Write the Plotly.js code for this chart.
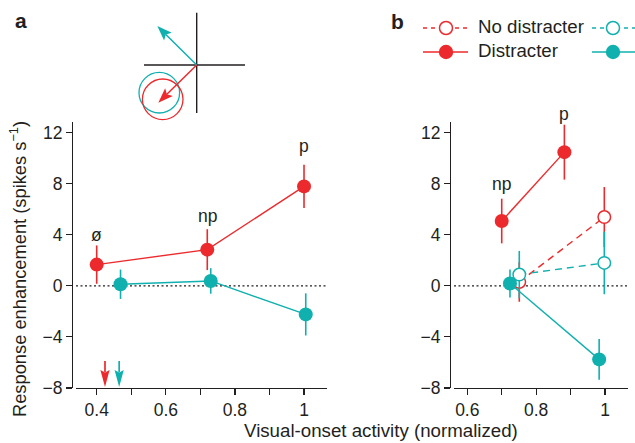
<!DOCTYPE html>
<html>
<head>
<meta charset="utf-8">
<script src="https://cdn.plot.ly/plotly-3.0.1.min.js"></script>
<style>html,body{margin:0;padding:0;background:#fff;}#chart{width:635px;height:443px;}</style>
</head>
<body>
<div id="chart"></div>
<script>
// ---------- data ----------
// Panel a
const aRedX = [0.40, 0.72, 1.00];
const aRedY = [1.66, 2.83, 7.78];
const aRedErr = [1.5, 1.6, 1.7];
const aCyanX = [0.469, 0.73, 1.005];
const aCyanY = [0.12, 0.38, -2.24];
const aCyanErr = [1.15, 1.0, 1.65];
const aLabels = ['ø', 'np', 'p'];
const onsetArrowX = [0.424, 0.465]; // red, cyan

// Panel b
const bRedDistX = [0.70, 0.882];
const bRedDistY = [5.07, 10.46];
const bRedDistErr = [1.75, 2.15];
const bCyanDistX = [0.724, 0.983];
const bCyanDistY = [0.18, -5.76];
const bCyanDistErr = [1.1, 1.6];
const bRedNoX = [0.751, 0.998];
const bRedNoY = [0.3, 5.38];
const bRedNoErr = [1.55, 2.35];
const bCyanNoX = [0.751, 0.998];
const bCyanNoY = [0.88, 1.79];
const bCyanNoErr = [1.85, 2.45];
const bLabels = ['np', 'p'];

// Ticks
const yTicks = [-8, -4, 0, 4, 8, 12];
const aXTickVals = [0.4, 0.6, 0.8, 1.0];
const aXTickText = ['0.4', '0.6', '0.8', '1'];
const bXTickVals = [0.6, 0.8, 1.0];
const bXTickText = ['0.6', '0.8', '1'];
const xMinorStep = 0.1;

// ---------- styling ----------
const W = 635, H = 443;
const RED = '#ec2a2d';
const CYAN = '#10b0ae';
const INK = '#231f20';
const FONT = 'Liberation Sans, Arial, Helvetica, sans-serif';
const px = x => x / W;
const py = y => 1 - y / H;

function filledTrace(x, y, err, color, xa, ya) {
  return {
    x: x, y: y, xaxis: xa, yaxis: ya, type: 'scatter', mode: 'lines+markers',
    line: {color: color, width: 1.4},
    marker: {color: color, size: 14, line: {width: 0}},
    error_y: {type: 'data', array: err, visible: true, color: color, thickness: 1.6, width: 0},
    cliponaxis: false, hoverinfo: 'skip'
  };
}
function openTrace(x, y, err, color, xa, ya) {
  return {
    x: x, y: y, xaxis: xa, yaxis: ya, type: 'scatter', mode: 'lines+markers',
    line: {color: color, width: 1.4, dash: '7px,5px'},
    marker: {color: '#ffffff', size: 12.5, line: {width: 1.5, color: color}},
    error_y: {type: 'data', array: err, visible: true, color: color, thickness: 1.6, width: 0},
    cliponaxis: false, hoverinfo: 'skip'
  };
}

const data = [
  filledTrace(aRedX, aRedY, aRedErr, RED, 'x', 'y'),
  filledTrace(aCyanX, aCyanY, aCyanErr, CYAN, 'x', 'y'),
  openTrace(bRedNoX, bRedNoY, bRedNoErr, RED, 'x2', 'y2'),
  openTrace(bCyanNoX, bCyanNoY, bCyanNoErr, CYAN, 'x2', 'y2'),
  filledTrace(bRedDistX, bRedDistY, bRedDistErr, RED, 'x2', 'y2'),
  filledTrace(bCyanDistX, bCyanDistY, bCyanDistErr, CYAN, 'x2', 'y2')
];

const yDomain = [py(388), py(122)];
function yAxis(pos) {
  return {
    domain: yDomain, range: [-8, 12.82], anchor: 'free', position: pos,
    tickvals: yTicks, ticks: 'outside', ticklen: 6, tickwidth: 1.2, tickcolor: INK,
    showline: true, linewidth: 1.3, linecolor: INK, showgrid: false, zeroline: false,
    tickfont: {family: FONT, size: 17.5, color: INK}, fixedrange: true
  };
}
function xAxis(dom, range, vals, text, anchor) {
  return {
    domain: dom, range: range, anchor: anchor,
    tickmode: 'array', tickvals: vals, ticktext: text, ticks: 'outside', ticklen: 6, tickwidth: 1.2, tickcolor: INK,
    minor: {tick0: 0, dtick: xMinorStep, ticks: 'outside', ticklen: 6, tickwidth: 1.2, tickcolor: INK, showgrid: false},
    showline: true, linewidth: 1.3, linecolor: INK, showgrid: false, zeroline: false,
    tickfont: {family: FONT, size: 17.5, color: INK}, fixedrange: true
  };
}

// ---------- shapes ----------
const shapes = [];
// zero lines
shapes.push({type: 'line', xref: 'x domain', yref: 'y', x0: 0, x1: 1, y0: 0, y1: 0, layer: 'below',
  line: {color: INK, width: 1.2, dash: '2px,2.5px'}});
shapes.push({type: 'line', xref: 'x2 domain', yref: 'y2', x0: 0, x1: 1, y0: 0, y1: 0, layer: 'below',
  line: {color: INK, width: 1.2, dash: '2px,2.5px'}});

// onset arrows in panel a (pixel-sized, anchored to data x and y=-8)
[RED, CYAN].forEach((c, i) => {
  shapes.push({type: 'path', xref: 'x', yref: 'y', xsizemode: 'pixel', ysizemode: 'pixel',
    xanchor: onsetArrowX[i], yanchor: -8, path: 'M0,16 L0,27', line: {color: c, width: 1.7}});
  shapes.push({type: 'path', xref: 'x', yref: 'y', xsizemode: 'pixel', ysizemode: 'pixel',
    xanchor: onsetArrowX[i], yanchor: -8, path: 'M0,1 L-4.6,18 L0,15.5 L4.6,18 Z',
    fillcolor: c, line: {width: 0}});
});

// schematic (pixel positions converted to paper)
function pline(x0, y0, x1, y1, color, w, dash) {
  return {type: 'line', xref: 'paper', yref: 'paper', x0: px(x0), y0: py(y0), x1: px(x1), y1: py(y1),
    line: {color: color, width: w, dash: dash || 'solid'}};
}
function pcircle(cx, cy, r, color, w, fill) {
  return {type: 'circle', xref: 'paper', yref: 'paper', x0: px(cx - r), x1: px(cx + r), y0: py(cy + r), y1: py(cy - r),
    line: {color: color, width: w}, fillcolor: fill || 'rgba(0,0,0,0)'};
}
function parrow(x0, y0, x1, y1, color, len, hw) {
  const dx = x1 - x0, dy = y1 - y0, L = Math.hypot(dx, dy);
  const ux = dx / L, uy = dy / L;
  const bx = x1 - ux * len, by = y1 - uy * len;
  const nx = -uy, ny = ux;
  const p = (x, y) => px(x).toFixed(5) + ',' + py(y).toFixed(5);
  const notchx = x1 - ux * len * 0.8, notchy = y1 - uy * len * 0.8;
  return [
    pline(x0, y0, notchx, notchy, color, 1.5),
    {type: 'path', xref: 'paper', yref: 'paper',
      path: 'M' + p(x1, y1) + ' L' + p(bx + nx * hw, by + ny * hw) + ' L' + p(notchx, notchy) + ' L' + p(bx - nx * hw, by - ny * hw) + ' Z',
      fillcolor: color, line: {width: 0}}
  ];
}
shapes.push(pline(196.7, 12.7, 196.7, 113, INK, 1.4));
shapes.push(pline(144, 65, 245, 65, INK, 1.4));
shapes.push(pcircle(159.3, 92.7, 20.3, CYAN, 1.3));
shapes.push(pcircle(162.7, 99.3, 20.3, RED, 1.3));
shapes.push(...parrow(196.7, 65, 157.3, 26, CYAN, 15, 5.5));
shapes.push(...parrow(196.7, 65, 158.3, 102.7, RED, 15, 5.5));

// legend glyphs
shapes.push(pline(423, 28, 468, 28, RED, 1.4, '4px,4px'));
shapes.push(pcircle(446, 28, 6.5, RED, 1.5, '#ffffff'));
shapes.push(pline(592, 28, 635, 28, CYAN, 1.4, '4px,4px'));
shapes.push(pcircle(613, 28, 6.5, CYAN, 1.5, '#ffffff'));
shapes.push(pline(423, 52, 468, 52, RED, 1.4));
shapes.push(pcircle(446, 52, 7.2, RED, 0, RED));
shapes.push(pline(592, 52, 635, 52, CYAN, 1.4));
shapes.push(pcircle(613, 52, 7.2, CYAN, 0, CYAN));

// ---------- annotations ----------
const ann = [];
const aShift = [10, 13.5, 19];
aLabels.forEach((t, i) => ann.push({xref: 'x', yref: 'y', x: aRedX[i], y: aRedY[i] + aRedErr[i], yshift: aShift[i],
  text: t, showarrow: false, xanchor: 'center', yanchor: 'middle', font: {family: FONT, size: 17.5, color: INK}}));
const bShift = [14.5, 11];
bLabels.forEach((t, i) => ann.push({xref: 'x2', yref: 'y2', x: bRedDistX[i], y: bRedDistY[i] + bRedDistErr[i], yshift: bShift[i],
  text: t, showarrow: false, xanchor: 'center', yanchor: 'middle', font: {family: FONT, size: 17.5, color: INK}}));

ann.push({xref: 'paper', yref: 'paper', x: px(21), y: py(21), text: '<b>a</b>', showarrow: false,
  font: {family: FONT, size: 21, color: INK}, xanchor: 'center', yanchor: 'middle'});
ann.push({xref: 'paper', yref: 'paper', x: px(397), y: py(21.5), text: '<b>b</b>', showarrow: false,
  font: {family: FONT, size: 21, color: INK}, xanchor: 'center', yanchor: 'middle'});
ann.push({xref: 'paper', yref: 'paper', x: px(476), y: py(27), text: 'No distracter', showarrow: false,
  font: {family: FONT, size: 18.7, color: INK}, xanchor: 'left', yanchor: 'middle'});
ann.push({xref: 'paper', yref: 'paper', x: px(476), y: py(51), text: 'Distracter', showarrow: false,
  font: {family: FONT, size: 18.7, color: INK}, xanchor: 'left', yanchor: 'middle'});
ann.push({xref: 'paper', yref: 'paper', x: px(381), y: py(430.5), text: 'Visual-onset activity (normalized)', showarrow: false,
  font: {family: FONT, size: 18.7, color: INK}, xanchor: 'center', yanchor: 'middle', borderpad: 0});
ann.push({xref: 'paper', yref: 'paper', x: px(18), y: py(269), text: 'Response enhancement (spikes s<sup>−1</sup>)', showarrow: false,
  textangle: -90, font: {family: FONT, size: 18.3, color: INK}, xanchor: 'center', yanchor: 'middle'});

const layout = {
  width: W, height: H, margin: {l: 0, r: 0, t: 0, b: 0},
  paper_bgcolor: '#ffffff', plot_bgcolor: 'rgba(0,0,0,0)', showlegend: false,
  font: {family: FONT, color: INK},
  xaxis: xAxis([px(76), px(327)], [0.3401, 1.0665], aXTickVals, aXTickText, 'y'),
  yaxis: yAxis(px(72)),
  xaxis2: xAxis([px(454), px(628)], [0.5614, 1.0668], bXTickVals, bXTickText, 'y2'),
  yaxis2: yAxis(px(450)),
  shapes: shapes, annotations: ann
};

Plotly.newPlot('chart', data, layout, {staticPlot: true, displayModeBar: false});
</script>
</body>
</html>
